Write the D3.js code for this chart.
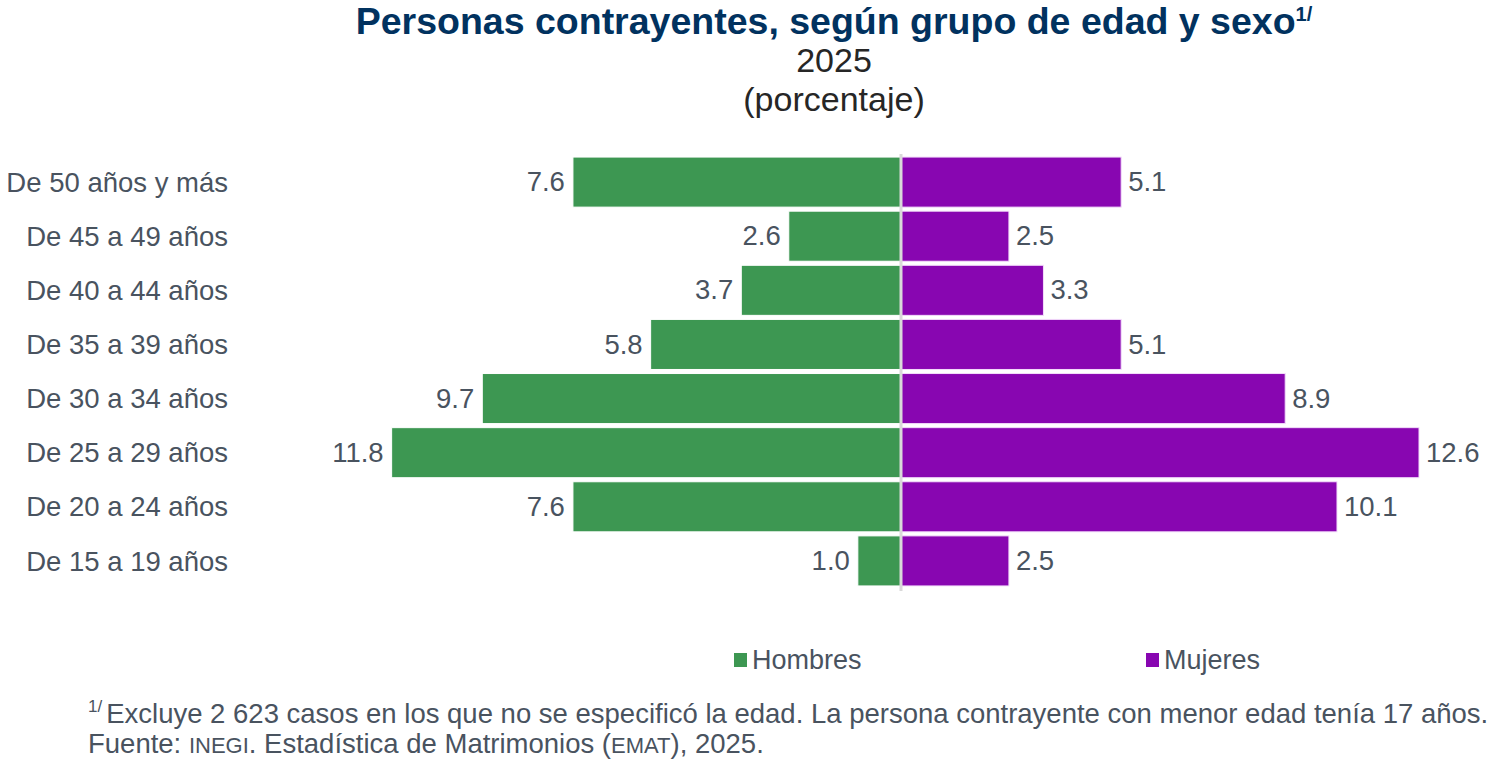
<!DOCTYPE html>
<html>
<head>
<meta charset="utf-8">
<script src="https://cdn.jsdelivr.net/npm/d3@7"></script>
<style>
  body { margin: 0; background: #fff; }
  svg { display: block; font-family: "Liberation Sans", Arial, sans-serif; }
</style>
</head>
<body>
<div id="container"></div>
<script>
/* DATA */
const ageGroups = ["De 50 años y más", "De 45 a 49 años", "De 40 a 44 años", "De 35 a 39 años",
  "De 30 a 34 años", "De 25 a 29 años", "De 20 a 24 años", "De 15 a 19 años"];
const hombres = [7.6, 2.6, 3.7, 5.8, 9.7, 11.8, 7.6, 1.0];
const mujeres = [5.1, 2.5, 3.3, 5.1, 8.9, 12.6, 10.1, 2.5];
const seriesNames = ["Hombres", "Mujeres"];
const axisMax = 12;

/* CONSTANTS */
const width = 1510, height = 763;
const green = "#3d9752", purple = "#8806b1";
const textGray = "#49535f";

const svg = d3.select("#container")
  .append("svg")
  .attr("width", width)
  .attr("height", height);

// TITLE
const title = svg.append("text")
  .attr("x", 834)
  .attr("y", 34)
  .attr("text-anchor", "middle")
  .style("font-size", "37.5px")
  .style("font-weight", "bold")
  .style("fill", "#01325f");
title.append("tspan").text("Personas contrayentes, según grupo de edad y sexo");
title.append("tspan")
  .attr("dy", -13)
  .style("font-size", "20px")
  .text("1/");

svg.append("text")
  .attr("x", 834).attr("y", 72)
  .attr("text-anchor", "middle")
  .style("font-size", "34px")
  .style("fill", "#262626")
  .text("2025");

svg.append("text")
  .attr("x", 834).attr("y", 111)
  .attr("text-anchor", "middle")
  .style("font-size", "34px")
  .style("fill", "#262626")
  .text("(porcentaje)");

// SCALES
const x = d3.scaleLinear()
  .domain([-axisMax, axisMax])
  .range([383, 1419])
  .clamp(true);

const y = d3.scaleBand()
  .domain(ageGroups)
  .range([153, 590])
  .padding(0.075);

// BARS
svg.selectAll("rect.hombres")
  .data(ageGroups)
  .join("rect")
  .attr("class", "hombres")
  .attr("x", (d, i) => x(-hombres[i]))
  .attr("y", d => y(d))
  .attr("width", (d, i) => x(0) - x(-hombres[i]))
  .attr("height", y.bandwidth())
  .attr("fill", green)
  .attr("stroke", "#fff")
  .attr("stroke-width", 1);

svg.selectAll("rect.mujeres")
  .data(ageGroups)
  .join("rect")
  .attr("class", "mujeres")
  .attr("x", x(0))
  .attr("y", d => y(d))
  .attr("width", (d, i) => x(mujeres[i]) - x(0))
  .attr("height", y.bandwidth())
  .attr("fill", purple)
  .attr("stroke", "#f3dcfb")
  .attr("stroke-width", 1);

// CENTER LINE
svg.append("line")
  .attr("x1", x(0)).attr("x2", x(0))
  .attr("y1", 154).attr("y2", 591)
  .attr("stroke", "#d9d9d9")
  .attr("stroke-width", 3);

// CATEGORY LABELS
svg.selectAll("text.cat")
  .data(ageGroups)
  .join("text")
  .attr("class", "cat")
  .attr("x", 228)
  .attr("y", d => y(d) + y.bandwidth() / 2)
  .attr("dy", "0.35em")
  .attr("text-anchor", "end")
  .style("font-size", "27.5px")
  .style("fill", textGray)
  .text(d => d);

// VALUE LABELS
svg.selectAll("text.valH")
  .data(ageGroups)
  .join("text")
  .attr("class", "valH")
  .attr("x", (d, i) => x(-hombres[i]) - 8)
  .attr("y", d => y(d) + y.bandwidth() / 2)
  .attr("dy", "0.33em")
  .attr("text-anchor", "end")
  .style("font-size", "27.5px")
  .style("fill", textGray)
  .text((d, i) => hombres[i].toFixed(1));

svg.selectAll("text.valM")
  .data(ageGroups)
  .join("text")
  .attr("class", "valM")
  .attr("x", (d, i) => x(mujeres[i]) + 7)
  .attr("y", d => y(d) + y.bandwidth() / 2)
  .attr("dy", "0.33em")
  .attr("text-anchor", "start")
  .style("font-size", "27.5px")
  .style("fill", textGray)
  .text((d, i) => mujeres[i].toFixed(1));

// LEGEND
const legendX = [734, 1146];
const legend = svg.selectAll("g.legend")
  .data(seriesNames)
  .join("g")
  .attr("class", "legend")
  .attr("transform", (d, i) => `translate(${legendX[i]}, 653)`);
legend.append("rect")
  .attr("width", 13).attr("height", 14)
  .attr("fill", (d, i) => i === 0 ? green : purple);
legend.append("text")
  .attr("x", 18).attr("y", 16)
  .style("font-size", "27px")
  .style("fill", textGray)
  .text(d => d);

// FOOTNOTES
const note = svg.append("text")
  .attr("x", 88).attr("y", 723)
  .style("font-size", "27.5px")
  .style("fill", textGray);
note.append("tspan")
  .attr("dy", -11)
  .style("font-size", "17px")
  .text("1/");
note.append("tspan")
  .attr("dy", 11)
  .attr("dx", 4)
  .text("Excluye 2 623 casos en los que no se especificó la edad. La persona contrayente con menor edad tenía 17 años.");

const source = svg.append("text")
  .attr("x", 88).attr("y", 753)
  .style("font-size", "27.5px")
  .style("fill", textGray);
source.append("tspan").text("Fuente: ");
source.append("tspan").style("font-size", "22px").text("INEGI");
source.append("tspan").text(". Estadística de Matrimonios (");
source.append("tspan").style("font-size", "22px").text("EMAT");
source.append("tspan").text("), 2025.");
</script>
</body>
</html>
